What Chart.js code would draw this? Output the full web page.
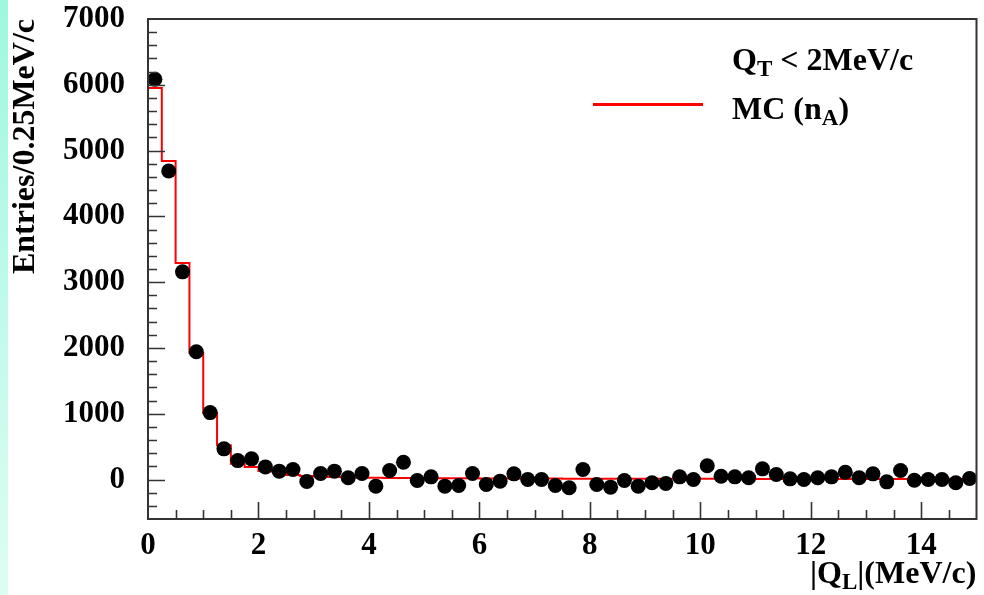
<!DOCTYPE html>
<html>
<head>
<meta charset="utf-8">
<script src="https://cdn.jsdelivr.net/npm/chart.js"></script>
<style>
  html, body { margin: 0; padding: 0; background: #fff; }
  #wrap { position: relative; width: 984px; height: 595px; overflow: hidden; }
  #strip { position: absolute; left: 0; top: 0; width: 8px; height: 595px;
           background: linear-gradient(#9ff7df, #defDF4); }
  canvas { position: absolute; left: 0; top: 0; }
  .lbl { position: absolute; font-family: 'Liberation Serif', serif; font-weight: bold;
         font-size: 32px; line-height: 1; white-space: nowrap; color: #000; }
  .lbl sub { font-size: 0.72em; vertical-align: baseline; position: relative; top: 0.28em; }
  #legLine { position: absolute; left: 593px; top: 103px; width: 110px; height: 3px; background: #ff0000; }
</style>
</head>
<body>
<div id="wrap">
  <div id="strip"></div>
  <canvas id="qlChart" width="984" height="595"></canvas>
  <div id="legLine"></div>
  <div class="lbl" style="left:732px; top:43px;">Q<sub>T</sub> &lt; 2MeV/c</div>
  <div class="lbl" style="left:732px; top:92px;">MC (n<sub>A</sub>)</div>
  <div class="lbl" style="left:810px; top:556px;">|Q<sub>L</sub>|(MeV/c)</div>
</div>

<script>
  // binning of |Q_L| histogram
  const binLow = 0;
  const binWidth = 0.25;

  // data points (entries per bin)
  const dataCounts = [
    6085, 4690, 3157, 1942, 1017, 466, 288, 314, 192, 127,
    152, -30, 91, 127, 26, 91, -101, 137, 263, -15,
    41, -101, -91, 91, -76, -25, 86, 0, 0, -91,
    -126, 152, -76, -116, -15, -101, -50, -61, 41, 0,
    210, 50, 41, 26, 162, 76, 10, 0, 26, 41,
    111, 26, 86, -35, 137, -10, 0, 0, -50, 15
  ];

  // MC (n_A) histogram contents
  const mcCounts = [
    5950, 4840, 3290, 1925, 1010, 520, 240, 190, 130, 120,
    70, 55, 45, 38, 32, 28, 26, 25, 24, 22,
    20, 20, 19, 18, 17, 16, 15, 15, 14, 14,
    13, 13, 12, 12, 12, 11, 11, 11, 10, 10,
    10, 10, 10, 10, 9, 9, 9, 9, 9, 9,
    8, 8, 8, 8, 8, 8, 8, 8, 8, 8
  ];

  const xTickLabels = [0, 2, 4, 6, 8, 10, 12, 14];
  const yTickLabels = [0, 1000, 2000, 3000, 4000, 5000, 6000, 7000];

  const font = { family: 'Liberation Serif', size: 31, weight: 'bold' };

  const pointData = dataCounts.map((v, i) => ({ x: binLow + (i + 0.5) * binWidth, y: v }));
  const mcData = mcCounts.map((v, i) => ({ x: binLow + i * binWidth, y: v }));
  mcData.push({ x: binLow + mcCounts.length * binWidth, y: mcCounts[mcCounts.length - 1] });

  // no extra room for label overflow, the layout padding places the frame
  function noOverflow(s) {
    s.paddingTop = 0; s.paddingBottom = 0;
    s.paddingLeft = 0; s.paddingRight = 0;
  }

  // frame and inward ROOT-style ticks
  const frameTicks = {
    id: 'frameTicks',
    afterDraw(chart) {
      const { ctx, chartArea: a, scales: { x, y } } = chart;
      ctx.save();
      ctx.strokeStyle = '#333';
      ctx.lineWidth = 2;
      ctx.strokeRect(a.left, a.top, a.right - a.left, a.bottom - a.top);

      ctx.lineWidth = 1.6;
      ctx.beginPath();
      for (let v = -600; v <= 7000; v += 200) {
        const py = Math.round(y.getPixelForValue(v)) + 0.5;
        if (py < a.top + 2 || py > a.bottom - 2) continue;
        const len = v % 1000 === 0 ? 17 : 9;
        ctx.moveTo(a.left, py);
        ctx.lineTo(a.left + len, py);
      }
      for (let v = 0.5; v < 15; v += 0.5) {
        const px = Math.round(x.getPixelForValue(v)) + 0.5;
        const len = v % 2 === 0 ? 17 : 9;
        ctx.moveTo(px, a.bottom);
        ctx.lineTo(px, a.bottom - len);
      }
      ctx.stroke();
      ctx.restore();
    }
  };

  new Chart(document.getElementById('qlChart'), {
    type: 'scatter',
    data: {
      datasets: [
        {
          label: 'Data',
          data: pointData,
          pointRadius: 7.5,
          pointBackgroundColor: '#000',
          pointBorderWidth: 0,
          showLine: false,
          clip: false
        },
        {
          label: 'MC (n_A)',
          data: mcData,
          showLine: true,
          stepped: 'before',
          borderColor: '#ff0000',
          borderWidth: 2,
          pointRadius: 0,
          fill: false
        }
      ]
    },
    options: {
      responsive: false,
      animation: false,
      layout: { padding: { left: 0, top: 19, right: 5, bottom: 0 } },
      plugins: {
        legend: { display: false },
        tooltip: { enabled: false }
      },
      scales: {
        x: {
          type: 'linear',
          min: 0,
          max: 15,
          afterBuildTicks: s => { s.ticks = xTickLabels.map(v => ({ value: v })); },
          afterFit: s => { s.height = 76; noOverflow(s); },
          grid: { display: false, drawTicks: false },
          border: { display: false },
          ticks: { font: font, color: '#000', padding: 8, autoSkip: false, maxRotation: 0,
                   callback: v => String(v) }
        },
        y: {
          type: 'linear',
          min: -600,
          max: 7000,
          afterBuildTicks: s => { s.ticks = yTickLabels.map(v => ({ value: v })); },
          afterFit: s => { s.width = 148; noOverflow(s); },
          grid: { display: false, drawTicks: false },
          border: { display: false },
          ticks: { font: font, color: '#000', padding: 23, autoSkip: false,
                   callback: v => String(v) },
          title: {
            display: true,
            text: 'Entries/0.25MeV/c',
            align: 'end',
            color: '#000',
            font: { family: 'Liberation Serif', size: 32, weight: 'bold' },
            padding: { top: 7, bottom: 0 }
          }
        }
      }
    },
    plugins: [frameTicks]
  });
</script>
</body>
</html>
